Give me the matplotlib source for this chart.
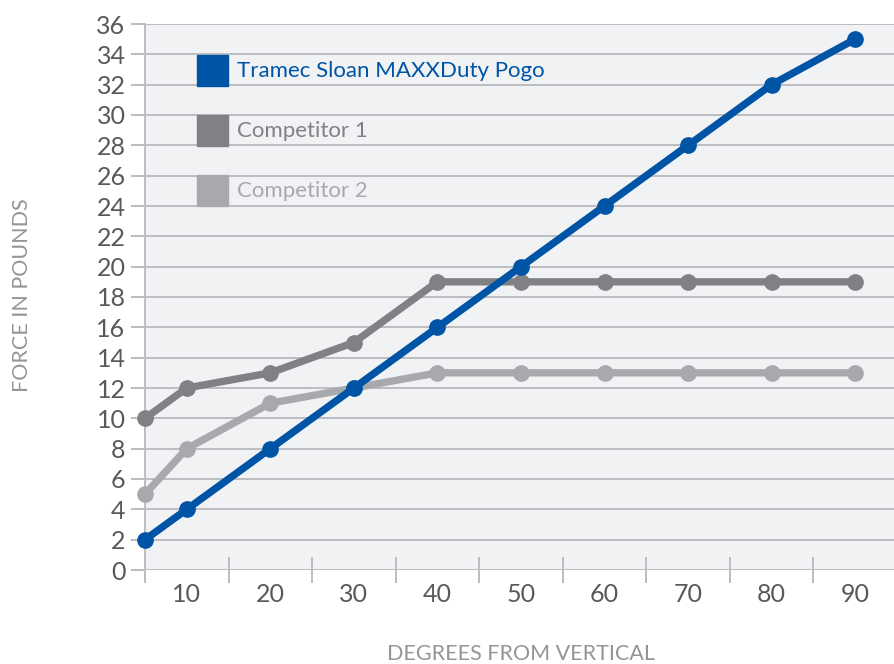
import matplotlib.pyplot as plt
from matplotlib.patches import Rectangle

# data
degrees = [5, 10, 20, 30, 40, 50, 60, 70, 80, 90]
pogo = [2, 4, 8, 12, 16, 20, 24, 28, 32, 35]
competitor1 = [10, 12, 13, 15, 19, 19, 19, 19, 19, 19]
competitor2 = [5, 8, 11, 12, 13, 13, 13, 13, 13, 13]

labels = ["Competitor 2", "Competitor 1", "Tramec Sloan MAXXDuty Pogo"]
series = [competitor2, competitor1, pogo]
colors = ["#a7a9ac", "#808184", "#0054a6"]

x_labels = [10, 20, 30, 40, 50, 60, 70, 80, 90]
x_minor = [5, 15, 25, 35, 45, 55, 65, 75, 85]
y_ticks = list(range(0, 37, 2))

plt.rcParams['font.family'] = ['Lato', 'DejaVu Sans']
grid_col = "#bcbdc0"
text_col = "#58595b"

fig = plt.figure(figsize=(8.94, 6.64), dpi=100)
ax = fig.add_axes([145 / 894, 1 - 570 / 664, 749 / 894, 546 / 664])
ax.set_facecolor("#f1f2f4")

# lines, blue drawn last so it sits on top
for vals, col in zip(series, colors):
    ax.plot(degrees, vals, color=col, lw=5.3, marker='o', ms=11,
            solid_capstyle='round', zorder=3, clip_on=False)

ax.set_xlim(5, 94.65)
ax.set_ylim(0, 36)

ax.set_yticks(y_ticks)
ax.set_yticklabels([str(v) for v in y_ticks], fontsize=18, color=text_col)
ax.yaxis.grid(True, color=grid_col, lw=1.4)
ax.tick_params(axis='y', length=10, width=1.4, color=grid_col, pad=4)

ax.set_xticks(x_labels)
ax.set_xticklabels([str(v) for v in x_labels], fontsize=18, color=text_col)
ax.tick_params(axis='x', which='major', length=0, pad=9)
ax.set_xticks(x_minor, minor=True)
ax.tick_params(axis='x', which='minor', direction='inout', length=19,
               width=1.4, color=grid_col)

for s in ['top', 'right', 'bottom']:
    ax.spines[s].set_visible(False)
ax.spines['left'].set_color(grid_col)
ax.spines['left'].set_linewidth(1.4)
ax.spines['left'].set_bounds(-0.8, 36)
ax.axhline(0, color=grid_col, lw=1.4, zorder=1)
ax.set_axisbelow(True)

# legend drawn by hand
for i, (lab, col) in enumerate(zip(labels[::-1], colors[::-1])):
    y0 = 0.886 - i * 0.1099
    ax.add_patch(Rectangle((0.0694, y0), 0.0414, 0.0568, transform=ax.transAxes,
                           color=col, clip_on=False, zorder=4))
    ax.text(0.1228, y0 + 0.0284, lab, transform=ax.transAxes, color=col,
            fontsize=16, va='center', ha='left')

fig.text(22 / 894, 1 - 295 / 664, "FORCE IN POUNDS", rotation=90, fontsize=15.5,
         color="#939598", ha='center', va='center')
fig.text(521 / 894, 1 - 654 / 664, "DEGREES FROM VERTICAL", fontsize=15.5,
         color="#939598", ha='center', va='center')

fig.savefig("out.png", dpi=100)
